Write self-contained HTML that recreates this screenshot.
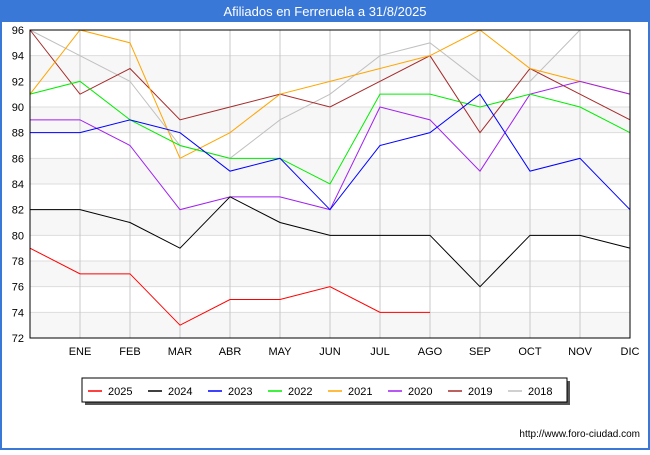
<!DOCTYPE html>
<html><head><meta charset="utf-8"><style>
body{margin:0;width:650px;height:450px;background:#fff;font-family:"Liberation Sans",sans-serif;overflow:hidden}
</style></head><body>
<svg width="650" height="450">
<rect x="0" y="0" width="650" height="450" fill="#fff"/>
<rect x="0" y="0" width="650" height="22" fill="#3a78d8"/>
<rect x="0" y="0" width="2" height="450" fill="#3a78d8"/>
<rect x="648" y="0" width="2" height="450" fill="#3a78d8"/>
<rect x="0" y="448" width="650" height="2" fill="#3a78d8"/>
<text x="325" y="16" text-anchor="middle" fill="#fff" font-size="13">Afiliados en Ferreruela a 31/8/2025</text>
<g id="grid"></g>
<g id="lines"></g>
<rect x="30" y="30" width="600" height="308" fill="none" stroke="#000" stroke-width="1"/>
<g id="legend"></g>
<text x="640" y="437" text-anchor="end" font-size="10" fill="#000">http://www.foro-ciudad.com</text>
</svg>
<script>
const months=["","ENE","FEB","MAR","ABR","MAY","JUN","JUL","AGO","SEP","OCT","NOV","DIC"];
const yTicks=[72,74,76,78,80,82,84,86,88,90,92,94,96];
const years=["2025","2024","2023","2022","2021","2020","2019","2018"];
const colors=["#ff0000","#000000","#0000ff","#00ee00","#ffa500","#a020f0","#a52a2a","#c0c0c0"];
const s2025=[79,77,77,73,75,75,76,74,74];
const s2024=[82,82,81,79,83,81,80,80,80,76,80,80,79];
const s2023=[88,88,89,88,85,86,82,87,88,91,85,86,82];
const s2022=[91,92,89,87,86,86,84,91,91,90,91,90,88];
const s2021=[91,96,95,86,88,91,92,93,94,96,93,92,91];
const s2020=[89,89,87,82,83,83,82,90,89,85,91,92,91];
const s2019=[96,91,93,89,90,91,90,92,94,88,93,91,89];
const s2018=[96,94,92,87,86,89,91,94,95,92,92,96];
const series=[s2025,s2024,s2023,s2022,s2021,s2020,s2019,s2018];
const drawOrder=[7,6,4,5,3,2,1,0];
const NS="http://www.w3.org/2000/svg";
const X=i=>30+i*50, Y=v=>338-(v-72)*(308/24);
const g=document.getElementById('grid');
function mk(t,a,p){const e=document.createElementNS(NS,t);for(const k in a)e.setAttribute(k,a[k]);p.appendChild(e);return e;}
for(let i=0;i<yTicks.length-1;i++){
 if(i%2==0){mk('rect',{x:30,y:Y(yTicks[i+1]),width:600,height:Y(yTicks[i])-Y(yTicks[i+1]),fill:'#f7f7f7'},g);}
}
yTicks.forEach(v=>{
 const l=mk('line',{x1:30,x2:630,y1:Y(v),y2:Y(v),stroke:'#ddd'},g);
 
 
 const t=mk('text',{x:24,y:Y(v)+4,'text-anchor':'end','font-size':11},g);t.textContent=v;
 
 
});
months.forEach((m,i)=>{
 if(i>0){const l=mk('line',{x1:X(i),x2:X(i),y1:30,y2:338,stroke:'#c8c8c8'},g);
 
 }
 if(m){const t=mk('text',{x:X(i),y:355,'text-anchor':'middle','font-size':11},g);t.textContent=m;
 
 }
});
const L=document.getElementById('lines');
drawOrder.forEach(k=>{
 const p=mk('polyline',{points:series[k].map((v,i)=>X(i)+','+Y(v)).join(' '),fill:'none',stroke:colors[k],'stroke-width':1},L);
 
 
});
const lg=document.getElementById('legend');
mk('rect',{x:85,y:381,width:485,height:24,fill:'#555'},lg);
mk('rect',{x:82,y:378,width:485,height:24,fill:'#fff',stroke:'#000'},lg);
years.forEach((y,k)=>{
 const x0=88+k*60;
 const e=mk('g',{},lg);
 
 
 mk('line',{x1:x0,x2:x0+14,y1:391,y2:391,stroke:colors[k],'stroke-width':1.5},e);
 const t=mk('text',{x:x0+20,y:395,'font-size':11},e);t.textContent=y;
});
</script>
</body></html>
